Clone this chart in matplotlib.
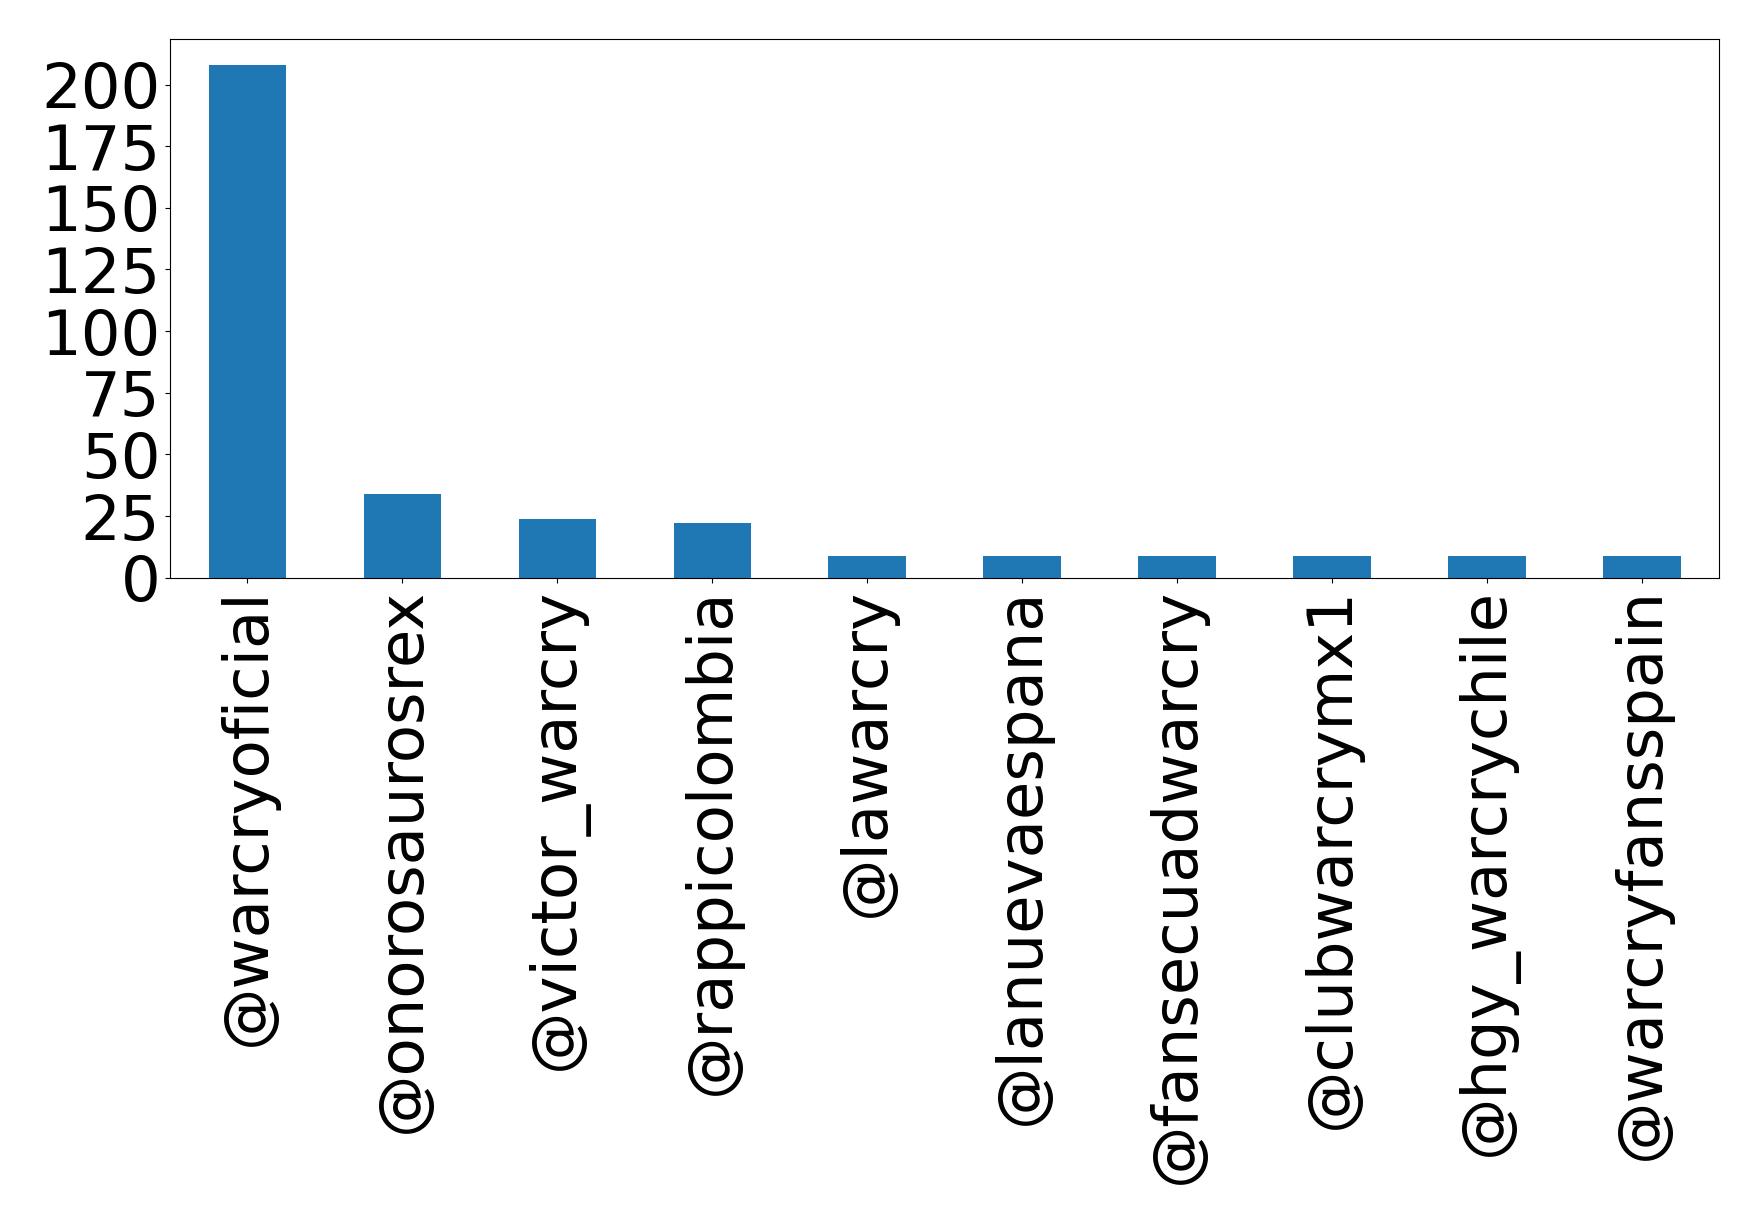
import matplotlib
matplotlib.use('Agg')
import matplotlib.pyplot as plt
from matplotlib.ticker import MultipleLocator
import pandas as pd

cuentas = ['@warcryoficial', '@onorosaurosrex', '@victor_warcry', '@rappicolombia',
           '@lawarcry', '@lanuevaespana', '@fansecuadwarcry', '@clubwarcrymx1',
           '@hgy_warcrychile', '@warcryfansspain']
menciones = [208, 34, 24, 22, 9, 9, 9, 9, 9, 9]

serie = pd.Series(menciones, index=cuentas)

fig = plt.figure(figsize=(17.58, 12.24), dpi=100)
ax = fig.add_axes([0.0967, 0.528, 0.978 - 0.0967, 0.968 - 0.528])
serie.plot(kind='bar', ax=ax, color='#1f77b4', fontsize=45)
ax.yaxis.set_major_locator(MultipleLocator(25))
ax.tick_params(axis='both', labelsize=45)

fig.savefig('out.png', dpi=100)
